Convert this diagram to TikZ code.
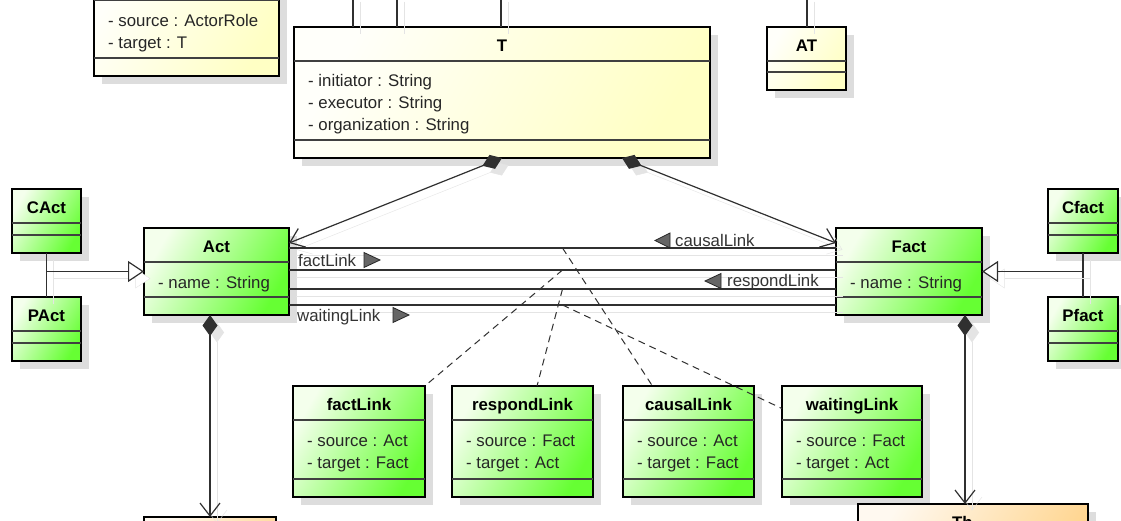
\documentclass[tikz,border=0pt]{standalone}
\usepackage{fontspec}
\setmainfont{Liberation Sans}
\usetikzlibrary{arrows.meta, shadows, calc}

\definecolor{greenlight}{HTML}{F4FFEC}
\definecolor{greendark}{HTML}{66FF33}
\definecolor{yellowlight}{HTML}{FFFFFA}
\definecolor{yellowdark}{HTML}{FFFFC4}
\definecolor{orangelight}{HTML}{FFF9F0}
\definecolor{orangedark}{HTML}{FFD38A}
\definecolor{shadowgray}{HTML}{DDDDDD}
\definecolor{lineshadow}{HTML}{E4E4E4}
\definecolor{linegray}{HTML}{303030}

\tikzset{
  classbox/.style={draw=black, line width=2.6pt, inner sep=0pt, outer sep=0pt,
    drop shadow={shadow xshift=8pt, shadow yshift=-8pt, fill=shadowgray, opacity=1}},
  greenclass/.style={classbox, left color=greenlight, right color=greendark, shading angle=60},
  yellowclass/.style={classbox, left color=yellowlight, right color=yellowdark, shading angle=60},
  orangeclass/.style={classbox, left color=orangelight, right color=orangedark, shading angle=60},
  sepline/.style={draw=black!75, line width=1.3pt},
  titletext/.style={font=\fontsize{16.8}{20}\selectfont\bfseries, anchor=base, inner sep=0pt},
  attrtext/.style={font=\fontsize{16.8}{20}\selectfont, text=black!85, anchor=base west, inner sep=0pt},
  linklabel/.style={font=\fontsize{16.8}{20}\selectfont, text=black!80, anchor=base west, inner sep=0pt},
  shadowed/.style={preaction={draw=lineshadow, transform canvas={shift={(7pt,-7pt)}}}},
  assoc/.style={draw=linegray, line width=1.2pt, shadowed},
  compline/.style={assoc, {Diamond[length=21pt, width=15pt]}-{Straight Barb[length=13pt, width=20pt]}},
  genline/.style={assoc, -{Triangle[open, length=16pt, width=21pt, fill=white]}},
  dashlink/.style={draw=linegray, line width=1pt, dash pattern=on 7pt off 5pt},
  dirmark/.style={fill=black!60, draw=black!85, line width=0.8pt}
}

% #1 style, #2 name, #3 #4 top left, #5 width, #6 height, #7 title, #8 attributes
\newcommand{\umlclass}[8]{%
  \node[#1, minimum width=#5pt, minimum height=#6pt, anchor=north west] (#2) at (#3,#4) {};
  \draw[sepline] ([yshift=-34pt]#2.north west) -- ([yshift=-34pt]#2.north east);
  \draw[sepline] ([yshift=18pt]#2.south west) -- ([yshift=18pt]#2.south east);
  \node[titletext] (#2-name) at ([yshift=-24.5pt]#2.north) {#7};
  \foreach \attr [count=\i] in {#8}
    \node[attrtext] (#2-attr\i) at ([shift={(14pt,{-(38+22*\i)*1pt})}]#2.north west) {\attr};
}

\begin{document}
\begin{tikzpicture}[x=1pt, y=-1pt]
\useasboundingbox (0,0) rectangle (1121,521);
\clip (0,0) rectangle (1121,521);
\fill[white] (0,0) rectangle (1121,521);

% classes
\umlclass{yellowclass}{rolelink}{94}{-33.5}{185}{109.5}{}{- source : ActorRole, - target : T}
\umlclass{yellowclass}{tbox}{294}{27}{416}{131}{T}{- initiator : String, - executor : String, - organization : String}
\umlclass{yellowclass}{atbox}{767}{27}{79}{63}{AT}{}
\umlclass{greenclass}{cact}{12}{189}{69}{64}{CAct}{}
\umlclass{greenclass}{pact}{12}{297}{69}{64}{PAct}{}
\umlclass{greenclass}{act}{144}{228}{145}{87}{Act}{- name : String}
\umlclass{greenclass}{fact}{836}{228}{146}{87}{Fact}{- name : String}
\umlclass{greenclass}{cfact}{1048}{189}{70}{64}{Cfact}{}
\umlclass{greenclass}{pfact}{1048}{297}{70}{64}{Pfact}{}
\umlclass{greenclass}{factbox}{293}{386}{132}{111}{factLink}{- source : Act, - target : Fact}
\umlclass{greenclass}{respondbox}{452}{386}{141}{111}{respondLink}{- source : Fact, - target : Act}
\umlclass{greenclass}{causalbox}{623}{386}{131}{111}{causalLink}{- source : Act, - target : Fact}
\umlclass{greenclass}{waitingbox}{782}{386}{140}{111}{waitingLink}{- source : Fact, - target : Act}
\umlclass{orangeclass}{thingl}{144}{517}{132}{100}{}{}
\umlclass{orangeclass}{thingr}{858}{504}{230}{100}{}{}
\node[titletext, anchor=base west] (thingr-label) at (952,528.5) {Th};

% links leaving the top edge
\coordinate (upa) at (353,-5);
\coordinate (upb) at (397,-5);
\coordinate (upc) at (501,-5);
\coordinate (upd) at (807,-5);
\draw[assoc] (upa) -- (upa |- tbox.north);
\draw[assoc] (upb) -- (upb |- tbox.north);
\draw[assoc] (upc) -- (upc |- tbox.north);
\draw[assoc] (upd) -- (upd |- atbox.north);

% compositions
\draw[compline] (tbox.south) -- ([yshift=28.5pt]act.east);
\draw[compline] ([xshift=120pt]tbox.south) -- ([yshift=28.5pt]fact.west);
\draw[compline] (act.south -| thingl.north) -- (thingl.north);
\coordinate (compr) at ([xshift=-8pt]thingr.north);
\draw[compline] (fact.south -| compr) -- (compr);

% generalizations
\draw[assoc] (cact.south) -- (pact.north);
\draw[genline] (cact.south |- act.west) -- (act.west);
\draw[assoc] (cfact.south) -- (pfact.north);
\draw[genline] (cfact.south |- fact.east) -- (fact.east);

% associations between Act and Fact
\draw[assoc] ([yshift=23.5pt]act.east) -- coordinate (causalmid) ([yshift=23.5pt]fact.west);
\draw[assoc] ([yshift=1.5pt]act.east) -- coordinate (factmid) ([yshift=1.5pt]fact.west);
\draw[assoc] ([yshift=-17.5pt]act.east) -- coordinate (respondmid) ([yshift=-17.5pt]fact.west);
\draw[assoc] ([yshift=-33.5pt]act.east) -- coordinate (waitingmid) ([yshift=-33.5pt]fact.west);

\node[linklabel] (causallbl) at (675,247) {causalLink};
\node[linklabel] (factlbl) at (298,266) {factLink};
\node[linklabel] (respondlbl) at (727,287) {respondLink};
\node[linklabel] (waitinglbl) at (297,321) {waitingLink};
\filldraw[dirmark] (670,233) -- (670,248) -- (655,240.5) -- cycle;
\filldraw[dirmark] (364,252.5) -- (364,267.5) -- (380,260) -- cycle;
\filldraw[dirmark] (721,273.5) -- (721,288.5) -- (705,281) -- cycle;
\filldraw[dirmark] (393,307.5) -- (393,322.5) -- (409,315) -- cycle;

% association classes
\draw[dashlink] (factmid) -- (factbox);
\draw[dashlink] (respondmid) -- (respondbox);
\draw[dashlink] (causalmid) -- (causalbox);
\draw[dashlink] (waitingmid) -- (waitingbox);
\end{tikzpicture}
\end{document}
